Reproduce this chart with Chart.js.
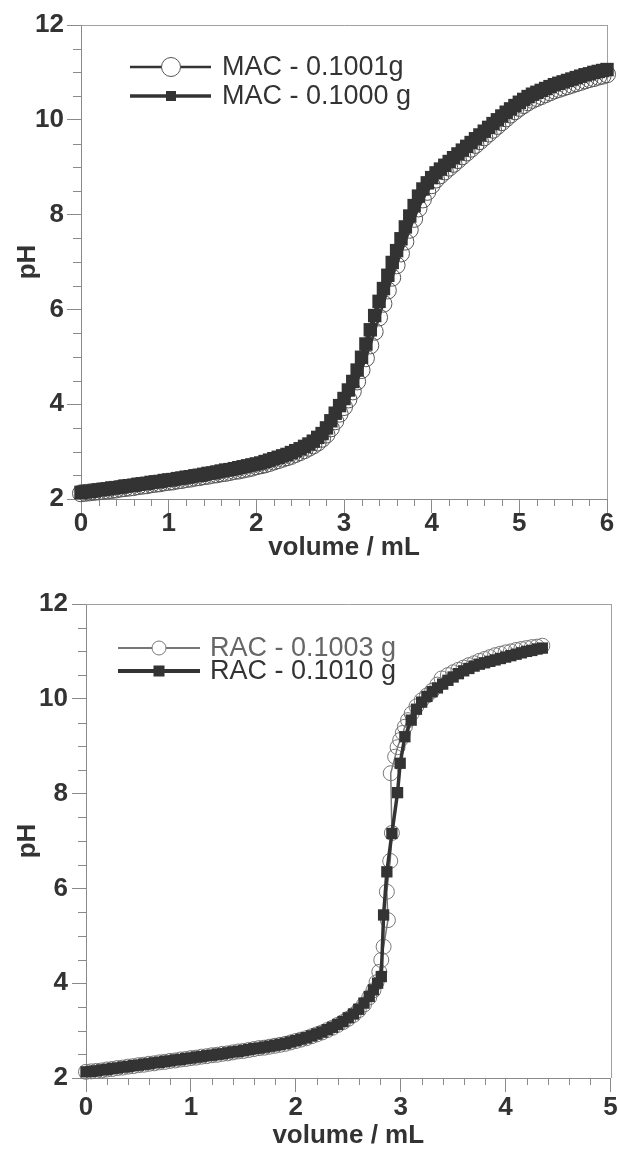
<!DOCTYPE html>
<html><head><meta charset="utf-8">
<script src="https://cdn.jsdelivr.net/npm/chart.js@4.4.0/dist/chart.umd.min.js"></script>
<style>
html,body{margin:0;padding:0;background:#fff;overflow:hidden;}
canvas{position:absolute;left:0;display:block;}
#c1{top:0;}
#c2{top:575px;}
</style></head><body>
<canvas id="c1" width="619" height="575"></canvas>
<canvas id="c2" width="619" height="574"></canvas>
<script>
// ---------- DATA ----------
const xTitle = 'volume / mL';
const yTitle = 'pH';
const macXTicks = [0, 1, 2, 3, 4, 5, 6];
const racXTicks = [0, 1, 2, 3, 4, 5];
const yTicks = [2, 4, 6, 8, 10, 12];

const macLabels = ['MAC - 0.1001g', 'MAC - 0.1000 g'];
const racLabels = ['RAC - 0.1003 g', 'RAC - 0.1010 g'];

const macVol = [0,0.05,0.1,0.15,0.2,0.25,0.3,0.35,0.4,0.45,0.5,0.55,0.6,0.65,0.7,0.75,0.8,0.85,0.9,0.95,
1,1.05,1.1,1.15,1.2,1.25,1.3,1.35,1.4,1.45,1.5,1.55,1.6,1.65,1.7,1.75,1.8,1.85,1.9,1.95,
2,2.05,2.1,2.15,2.2,2.25,2.3,2.35,2.4,2.45,2.5,2.55,2.6,2.65,2.7,2.75,2.8,2.85,2.9,2.95,
3,3.05,3.1,3.15,3.2,3.25,3.3,3.35,3.4,3.45,3.5,3.55,3.6,3.65,3.7,3.75,3.8,3.85,3.9,3.95,
4,4.05,4.1,4.15,4.2,4.25,4.3,4.35,4.4,4.45,4.5,4.55,4.6,4.65,4.7,4.75,4.8,4.85,4.9,4.95,
5,5.05,5.1,5.15,5.2,5.25,5.3,5.35,5.4,5.45,5.5,5.55,5.6,5.65,5.7,5.75,5.8,5.85,5.9,5.95,6];

const mac1001pH = [2.12,2.13,2.14,2.15,2.16,2.17,2.18,2.19,2.20,2.22,2.23,2.24,2.25,2.27,2.28,2.29,2.31,2.32,2.33,2.35,
2.36,2.37,2.39,2.40,2.42,2.43,2.45,2.46,2.48,2.49,2.51,2.52,2.54,2.55,2.57,2.59,2.60,2.62,2.64,2.66,
2.69,2.71,2.73,2.76,2.79,2.82,2.85,2.88,2.91,2.95,2.99,3.03,3.08,3.13,3.19,3.27,3.36,3.49,3.64,3.80,
3.94,4.10,4.27,4.48,4.72,4.97,5.24,5.53,5.83,6.12,6.40,6.67,6.93,7.18,7.43,7.68,7.91,8.13,8.32,8.48,
8.62,8.74,8.83,8.91,8.99,9.07,9.15,9.23,9.31,9.39,9.47,9.55,9.63,9.71,9.79,9.87,9.95,10.03,10.11,10.18,
10.25,10.31,10.37,10.42,10.46,10.50,10.54,10.58,10.62,10.65,10.68,10.71,10.74,10.77,10.80,10.83,10.86,10.88,10.91,10.93,10.96];

const mac1000pH = [2.14,2.15,2.16,2.17,2.19,2.20,2.21,2.23,2.24,2.25,2.27,2.28,2.29,2.31,2.32,2.33,2.35,2.36,2.37,2.39,
2.40,2.41,2.43,2.44,2.46,2.47,2.49,2.50,2.52,2.54,2.55,2.57,2.59,2.61,2.62,2.64,2.66,2.68,2.70,2.72,
2.74,2.76,2.79,2.82,2.85,2.88,2.91,2.94,2.98,3.02,3.06,3.11,3.16,3.22,3.30,3.38,3.50,3.65,3.81,3.97,
4.12,4.30,4.48,4.72,4.99,5.27,5.57,5.87,6.17,6.44,6.72,6.99,7.24,7.49,7.74,7.97,8.19,8.39,8.54,8.67,
8.78,8.88,8.96,9.04,9.12,9.20,9.28,9.36,9.44,9.52,9.60,9.68,9.76,9.84,9.92,10.00,10.08,10.16,10.23,10.30,
10.37,10.43,10.49,10.54,10.58,10.62,10.66,10.70,10.74,10.77,10.80,10.83,10.86,10.89,10.92,10.95,10.97,11.00,11.02,11.04,11.06];

const rac1003Vol = [0,0.05,0.1,0.15,0.2,0.25,0.3,0.35,0.4,0.45,0.5,0.55,0.6,0.65,0.7,0.75,0.8,0.85,0.9,0.95,
1,1.05,1.1,1.15,1.2,1.25,1.3,1.35,1.4,1.45,1.5,1.55,1.6,1.65,1.7,1.75,1.8,1.85,1.9,1.95,
2,2.05,2.1,2.15,2.2,2.25,2.3,2.35,2.4,2.45,2.5,2.55,2.6,2.65,2.7,
2.74,2.77,2.796,2.815,2.837,2.878,2.868,2.9,2.916,2.905,2.947,2.97,2.995,3.02,3.04,3.07,3.105,
3.15,3.2,3.25,3.3,3.35,3.39,3.45,3.5,3.55,3.6,3.65,3.7,3.75,3.8,3.85,3.9,3.95,4,4.05,4.1,4.15,4.2,4.25,4.3,4.35];
const rac1003pH = [2.13,2.14,2.15,2.16,2.18,2.19,2.21,2.22,2.24,2.25,2.27,2.28,2.30,2.31,2.33,2.34,2.36,2.37,2.39,2.40,
2.42,2.43,2.45,2.46,2.48,2.49,2.51,2.52,2.54,2.56,2.57,2.59,2.61,2.63,2.64,2.66,2.68,2.70,2.72,2.75,
2.78,2.81,2.84,2.88,2.92,2.96,3.01,3.06,3.12,3.18,3.25,3.33,3.43,3.55,3.70,
3.85,4.02,4.24,4.49,4.77,5.33,5.93,6.58,7.17,8.43,8.78,8.98,9.13,9.28,9.41,9.55,9.69,
9.84,9.97,10.07,10.17,10.30,10.43,10.50,10.56,10.61,10.66,10.71,10.75,10.80,10.84,10.88,10.92,10.95,10.98,11.00,11.03,11.05,11.07,11.09,11.10,11.12];

const rac1010Vol = [0,0.05,0.1,0.15,0.2,0.25,0.3,0.35,0.4,0.45,0.5,0.55,0.6,0.65,0.7,0.75,0.8,0.85,0.9,0.95,
1,1.05,1.1,1.15,1.2,1.25,1.3,1.35,1.4,1.45,1.5,1.55,1.6,1.65,1.7,1.75,1.8,1.85,1.9,1.95,
2,2.05,2.1,2.15,2.2,2.25,2.3,2.35,2.4,2.45,2.5,2.55,2.6,2.65,2.7,
2.74,2.78,2.815,2.837,2.868,2.916,2.97,2.995,3.04,3.1,
3.15,3.2,3.25,3.3,3.35,3.4,3.45,3.5,3.55,3.6,3.65,3.7,3.75,3.8,3.85,3.9,3.95,4,4.05,4.1,4.15,4.2,4.25,4.3,4.35];
const rac1010pH = [2.13,2.14,2.15,2.17,2.18,2.20,2.21,2.23,2.24,2.26,2.27,2.29,2.30,2.32,2.33,2.35,2.36,2.38,2.39,2.41,
2.42,2.44,2.45,2.47,2.48,2.50,2.51,2.53,2.55,2.56,2.58,2.60,2.62,2.63,2.65,2.67,2.69,2.71,2.73,2.76,
2.79,2.82,2.85,2.89,2.93,2.97,3.02,3.07,3.13,3.19,3.27,3.35,3.45,3.58,3.72,
3.86,4.00,4.14,5.44,6.35,7.16,8.02,8.64,9.20,9.55,
9.78,9.93,10.05,10.15,10.23,10.31,10.39,10.46,10.53,10.59,10.64,10.69,10.73,10.76,10.79,10.82,10.85,10.88,10.91,10.94,10.97,11.00,11.02,11.05,11.07];

// ---------- STYLE / HELPERS ----------
const FONT = "'Liberation Sans', Arial, Helvetica, sans-serif";
const TXT = '#333333';
const AXC = '#8a8a8a';
const near = (v, arr) => arr.some(a => Math.abs(a - v) < 1e-6);
const pts = (xs, ys) => xs.map((x, i) => ({x: x, y: ys[i]}));

const framePlugin = {
  id: 'frame',
  beforeDatasetsDraw(chart) {
    const {ctx, chartArea: a} = chart;
    ctx.save();
    ctx.strokeStyle = '#a0a0a0';
    ctx.lineWidth = 1;
    ctx.beginPath();
    ctx.moveTo(a.left, Math.round(a.top) + 0.5);
    ctx.lineTo(a.right + 0.5, Math.round(a.top) + 0.5);
    ctx.moveTo(Math.round(a.right) + 0.5, a.top);
    ctx.lineTo(Math.round(a.right) + 0.5, a.bottom);
    ctx.stroke();
    const o = chart.options.plugins.frame;
    ctx.strokeStyle = AXC;
    const xs = chart.scales.x, ys = chart.scales.y;
    ctx.beginPath();
    xs.ticks.forEach(t => {
      if (near(t.value, o.xMajor)) return;
      const px = Math.round(xs.getPixelForValue(t.value)) + 0.5;
      ctx.moveTo(px, xs.top); ctx.lineTo(px, xs.top + 7);
    });
    ys.ticks.forEach(t => {
      if (near(t.value, o.yMajor)) return;
      const py = Math.round(ys.getPixelForValue(t.value)) + 0.5;
      ctx.moveTo(ys.right - 8, py); ctx.lineTo(ys.right, py);
    });
    ctx.stroke();
    ctx.restore();
  }
};

const legendPlugin = {
  id: 'customLegend',
  afterDatasetsDraw(chart) {
    const o = chart.options.plugins.customLegend;
    const ctx = chart.ctx;
    ctx.save();
    o.items.forEach(it => {
      const ds = chart.data.datasets[it.ds];
      ctx.strokeStyle = ds.borderColor;
      ctx.lineWidth = it.lw;
      ctx.beginPath();
      ctx.moveTo(o.x1, it.y); ctx.lineTo(o.x2, it.y);
      ctx.stroke();
      ctx.lineWidth = 1;
      if (ds.pointStyle === 'circle') {
        ctx.beginPath();
        ctx.arc(o.mx, it.y, it.ms, 0, Math.PI * 2);
        ctx.fillStyle = '#ffffff';
        ctx.fill();
        ctx.strokeStyle = ds.pointBorderColor;
        ctx.stroke();
      } else {
        ctx.fillStyle = ds.pointBackgroundColor;
        ctx.fillRect(o.mx - it.ms, it.y - it.ms, it.ms * 2, it.ms * 2);
      }
      ctx.fillStyle = it.color;
      ctx.font = '27px ' + FONT;
      ctx.textBaseline = 'middle';
      ctx.textAlign = 'left';
      ctx.fillText(ds.label, o.tx, it.y + 1);
    });
    ctx.restore();
  }
};

function makeChart(id, cfg) {
  const tickFont = {family: FONT, size: 26, weight: 'bold', lineHeight: 1};
  return new Chart(document.getElementById(id), {
    type: 'scatter',
    data: {datasets: cfg.datasets},
    options: {
      responsive: false,
      animation: false,
      events: [],
      layout: {padding: {top: cfg.padTop, right: cfg.padRight, left: 0, bottom: 0}},
      plugins: {
        legend: {display: false},
        tooltip: {enabled: false},
        frame: {xMajor: cfg.xTicks, yMajor: yTicks},
        customLegend: cfg.legend
      },
      scales: {
        x: {
          type: 'linear', min: cfg.xMin, max: cfg.xMax,
          afterFit: s => { s.height = cfg.xAxisH; s.paddingLeft = 0; s.paddingRight = 0; },
          border: {display: true, color: AXC, width: 1},
          grid: {
            display: true, drawOnChartArea: false, drawTicks: true, tickLength: 14, tickWidth: 1,
            tickColor: c => (c.tick && near(c.tick.value, cfg.xTicks)) ? AXC : 'rgba(0,0,0,0)'
          },
          ticks: {
            stepSize: 0.2, autoSkip: false, maxRotation: 0, minRotation: 0,
            padding: cfg.xTickPad, color: TXT, font: tickFont,
            callback: v => { const i = cfg.xTicks.findIndex(a => Math.abs(a - v) < 1e-6); return i >= 0 ? String(cfg.xTicks[i]) : ''; }
          },
          title: {display: true, text: xTitle, color: TXT,
                  font: {family: FONT, size: 26, weight: 'bold', lineHeight: 1},
                  padding: {top: 0, bottom: cfg.xTitlePad}}
        },
        y: {
          type: 'linear', min: 2, max: 12,
          afterFit: s => { s.width = cfg.yAxisW; s.paddingTop = 0; s.paddingBottom = 0; },
          border: {display: true, color: AXC, width: 1},
          grid: {
            display: true, drawOnChartArea: false, drawTicks: true, tickLength: 14, tickWidth: 1,
            tickColor: c => (c.tick && near(c.tick.value, yTicks)) ? AXC : 'rgba(0,0,0,0)'
          },
          ticks: {
            stepSize: 0.5, autoSkip: false,
            padding: cfg.yTickPad, color: TXT, font: tickFont,
            callback: v => { const i = yTicks.findIndex(a => Math.abs(a - v) < 1e-6); return i >= 0 ? String(yTicks[i]) : ''; }
          },
          title: {display: true, text: yTitle, color: TXT,
                  font: {family: FONT, size: 26, weight: 'bold', lineHeight: 1.2},
                  padding: {top: 12, bottom: 0}}
        }
      }
    },
    plugins: [framePlugin, legendPlugin]
  });
}

// ---------- TOP CHART (MAC) ----------
makeChart('c1', {
  xMin: 0, xMax: 6, xTicks: macXTicks,
  padTop: 25, padRight: 12, yAxisW: 81, xAxisH: 76,
  xTickPad: -2, yTickPad: 3, xTitlePad: 14,
  datasets: [
    {label: macLabels[0], data: pts(macVol, mac1001pH), showLine: true, order: 2, clip: false,
     borderColor: '#333333', borderWidth: 2.5, pointStyle: 'circle', pointRadius: 8.5,
     pointBorderColor: '#555555', pointBorderWidth: 1, pointBackgroundColor: 'rgba(255,255,255,0)'},
    {label: macLabels[1], data: pts(macVol, mac1000pH), showLine: true, order: 1, clip: false,
     borderColor: '#333333', borderWidth: 5, pointStyle: 'rect', pointRadius: 9.5,
     pointBorderColor: '#333333', pointBorderWidth: 0, pointBackgroundColor: '#333333'}
  ],
  legend: {x1: 130, x2: 211, mx: 171, tx: 222, items: [
    {ds: 0, y: 67, lw: 2.7, ms: 9.5, color: TXT},
    {ds: 1, y: 96, lw: 3.3, ms: 5, color: TXT}
  ]}
});

// ---------- BOTTOM CHART (RAC) ----------
makeChart('c2', {
  xMin: 0, xMax: 5, xTicks: racXTicks,
  padTop: 29, padRight: 6, yAxisW: 86, xAxisH: 71,
  xTickPad: 3, yTickPad: 4, xTitlePad: 0,
  datasets: [
    {label: racLabels[0], data: pts(rac1003Vol, rac1003pH), showLine: true, order: 2, clip: false,
     borderColor: '#777777', borderWidth: 1.5, pointStyle: 'circle', pointRadius: 7.5,
     pointBorderColor: '#777777', pointBorderWidth: 1, pointBackgroundColor: 'rgba(255,255,255,0)'},
    {label: racLabels[1], data: pts(rac1010Vol, rac1010pH), showLine: true, order: 1, clip: false,
     borderColor: '#333333', borderWidth: 3.5, pointStyle: 'rect', pointRadius: 8,
     pointBorderColor: '#333333', pointBorderWidth: 0, pointBackgroundColor: '#333333'}
  ],
  legend: {x1: 118, x2: 200, mx: 159, tx: 210, items: [
    {ds: 0, y: 73, lw: 2, ms: 7, color: '#666666'},
    {ds: 1, y: 96, lw: 4, ms: 5.5, color: TXT}
  ]}
});
</script>
</body></html>
